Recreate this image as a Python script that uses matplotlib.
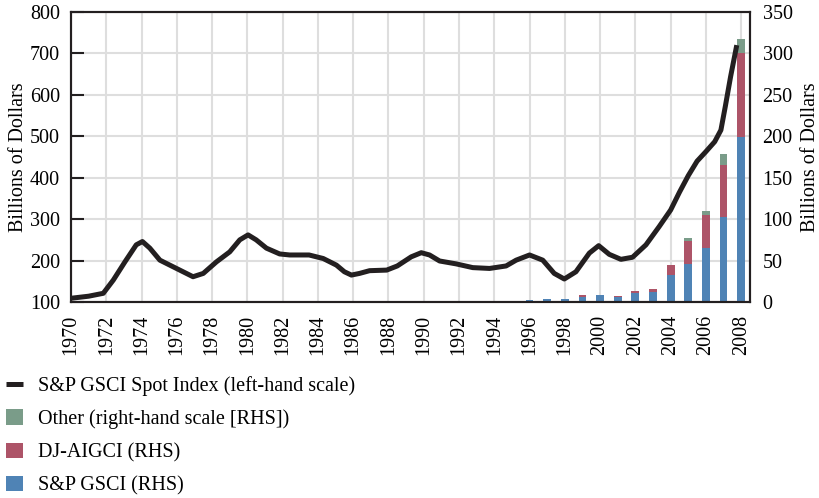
import matplotlib
matplotlib.use("Agg")
import matplotlib.pyplot as plt
from matplotlib.lines import Line2D
from matplotlib.patches import Patch
import numpy as np

# ---- data ----
# S&P GSCI Spot Index (left-hand scale) at these dates
line_years = [1970.0, 1971.0, 1971.83, 1972.4, 1973.06, 1973.7, 1974.05, 1974.47,
              1975.04, 1975.98, 1976.92, 1977.5, 1978.25, 1979.0, 1979.57, 1980.04,
              1980.5, 1981.08, 1981.83, 1982.4, 1983.5, 1984.3, 1985.05, 1985.5,
              1985.9, 1986.36, 1986.93, 1987.9, 1988.5, 1989.29, 1989.86, 1990.33,
              1990.9, 1991.84, 1992.78, 1993.73, 1994.67, 1995.24, 1996.0, 1996.75,
              1997.4, 1997.97, 1998.63, 1999.39, 1999.92, 2000.52, 2001.18, 2001.84,
              2002.6, 2003.35, 2004.0, 2004.5, 2005.0, 2005.5, 2006.0, 2006.5,
              2006.85, 2007.1, 2007.4, 2007.75]
spot_index = [109, 114, 121, 153, 197, 238, 246, 230,
              201, 181, 161, 169, 197, 221, 250, 262,
              250, 230, 216, 213.5, 213.5, 205, 189, 173,
              165, 169, 175.6, 177, 187, 209, 219, 213.5,
              199, 192, 183, 181, 187, 201, 213.5, 201,
              169, 155.5, 173, 218, 236, 215, 203, 208,
              238, 282, 322, 365, 405, 440, 463, 487,
              515, 572, 644, 720]

bar_years = list(range(1995, 2009))
sp_gsci = [1, 2.5, 3.5, 3.5, 6, 8, 6, 10.5, 12.5, 32.5, 46, 65.5, 102, 199]
dj_aigci = [0, 0, 0, 0, 2, 1, 1.5, 2.5, 3.5, 12, 27.5, 39.5, 63, 101]
other = [0, 0, 0, 0, 0, 0, 0, 0, 0, 0, 3.5, 5, 13.5, 17]

x_ticks = list(range(1970, 2009, 2))
left_ticks = [100, 200, 300, 400, 500, 600, 700, 800]
right_ticks = [0, 50, 100, 150, 200, 250, 300, 350]

labels = ["S&P GSCI Spot Index (left-hand scale)",
          "Other (right-hand scale [RHS])",
          "DJ-AIGCI (RHS)",
          "S&P GSCI (RHS)"]

c_blue = "#4f83b5"
c_red = "#ad5468"
c_green = "#7a9c89"
c_line = "#231f20"
c_grid = "#dedede"
c_spine = "#231f20"

plt.rcParams['font.family'] = ['Liberation Serif', 'DejaVu Serif']
fs = 14.5

fig = plt.figure(figsize=(8.19, 4.98), dpi=100)
ax = fig.add_axes([71/819, 1-302/498, (750-71)/819, (302-12)/498])
ax2 = ax.twinx()

# bars on right axis
bw = 0.44
b1 = np.array(sp_gsci)
b2 = np.array(dj_aigci)
b3 = np.array(other)
ax2.bar(bar_years, b1, width=bw, color=c_blue, zorder=2)
ax2.bar(bar_years, b2, width=bw, bottom=b1, color=c_red, zorder=2)
ax2.bar(bar_years, b3, width=bw, bottom=b1 + b2, color=c_green, zorder=2)

# spot index on left scale (drawn on top of the bars)
ax.set_zorder(ax2.get_zorder() + 1)
ax.patch.set_visible(False)
ax.plot(line_years, spot_index, color=c_line, lw=3.6,
        solid_joinstyle='round', solid_capstyle='butt', zorder=3)

ax.set_xlim(1970, 2008.5)
ax.set_ylim(100, 800)
ax2.set_ylim(0, 350)

ax.set_xticks(x_ticks)
ax.set_xticklabels([str(y) for y in x_ticks], rotation=90, fontsize=fs)
ax.set_yticks(left_ticks)
ax.set_yticklabels([str(v) for v in left_ticks], fontsize=fs)
ax2.set_yticks(right_ticks)
ax2.set_yticklabels([str(v) for v in right_ticks], fontsize=fs)

ax2.grid(False)
ax.grid(False)
# grid drawn on the bar axes so it stays beneath the bars
ax2.set_axisbelow(True)
for xt in x_ticks:
    ax2.axvline(xt, color=c_grid, lw=1.5, zorder=0)
for yt in right_ticks:
    ax2.axhline(yt, color=c_grid, lw=1.5, zorder=0)

ax.tick_params(axis='y', direction='in', length=9, width=1.5, color=c_spine, pad=8)
ax.tick_params(axis='x', length=0, pad=9)
ax2.tick_params(axis='y', length=0, pad=9)

for a in (ax, ax2):
    for s in a.spines.values():
        s.set_color(c_spine)
        s.set_linewidth(1.5)

ax.set_ylabel("Billions of Dollars", fontsize=fs, labelpad=1)
ax2.set_ylabel("Billions of Dollars", fontsize=fs, labelpad=6)

handles = [Line2D([0], [0], color=c_line, lw=3.6, solid_capstyle='butt'),
           Patch(facecolor=c_green), Patch(facecolor=c_red), Patch(facecolor=c_blue)]
fig.legend(handles, labels, loc='upper left', bbox_to_anchor=(0.0, 1 - 370/498),
           frameon=False, fontsize=fs, handlelength=0.85, handleheight=0.8,
           handletextpad=0.75, labelspacing=0.67, borderaxespad=0, borderpad=0.3)

fig.savefig("out.png", dpi=100)
